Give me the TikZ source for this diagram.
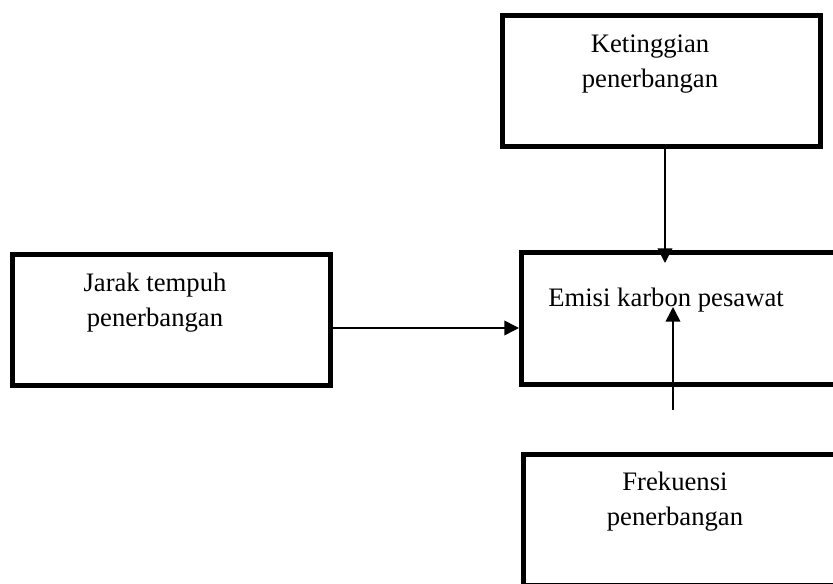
\documentclass[tikz,border=0pt]{standalone}
\usepackage{fontspec}
\setmainfont{Liberation Serif}
\usetikzlibrary{arrows.meta}

\begin{document}
\begin{tikzpicture}[x=0.75pt,y=-0.75pt,
  kotak/.style={rectangle,draw=black,line width=3.75pt,minimum width=238.5pt,minimum height=97.9pt,inner sep=0pt},
  teks/.style={inner sep=0pt,align=center,font=\fontsize{20}{25.7}\selectfont},
  panah/.style={line width=1.2pt,-{Triangle[length=11pt,width=11pt]}}]
\useasboundingbox (0,0) rectangle (833,584);
% kotak
\node[kotak] (tinggi) at (661.5,80.75) {};
\node[kotak] (jarak) at (171.5,320.25) {};
\node[kotak,minimum height=99pt] (emisi) at (680.5,318.5) {};
\node[kotak] (frek) at (682.5,519.75) {};
% teks
\node[teks] (tTinggi) at (650,64) {Ketinggian\\penerbangan};
\node[teks] (tJarak) at (155,302.5) {Jarak tempuh\\penerbangan};
\node[teks,anchor=base west] (tEmisi) at (548,307) {Emisi karbon pesawat};
\node[teks] (tFrek) at (675,501.7) {Frekuensi\\penerbangan};
% panah
\coordinate (a) at (665,263);
\draw[panah] (tinggi.south -| a) -- (a);
\coordinate (b) at (518,328);
\draw[panah] (jarak.east |- b) -- (emisi.west |- b);
\coordinate (c1) at (673,410);
\coordinate (c2) at (673,307);
\draw[panah] (c1) -- (c2);
\end{tikzpicture}
\end{document}
